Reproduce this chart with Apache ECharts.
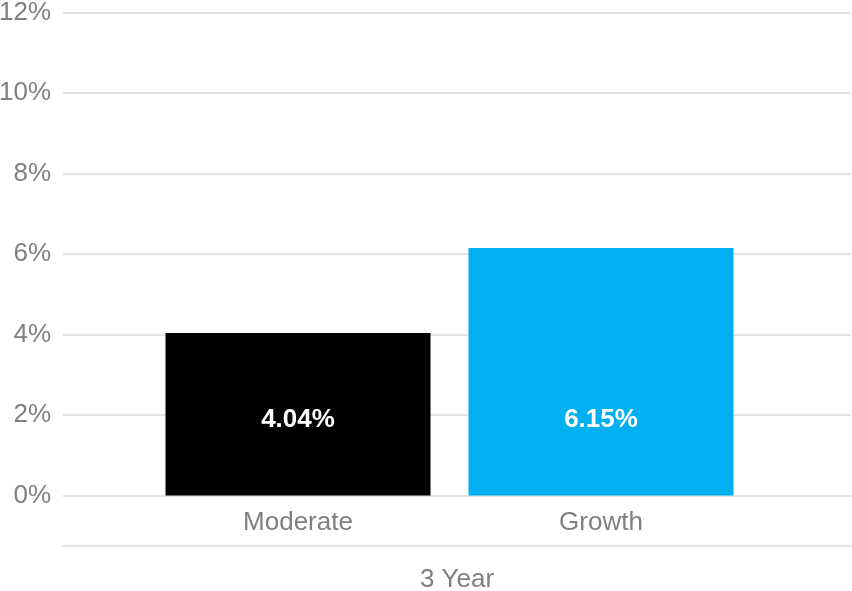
<!DOCTYPE html>
<html>
<head>
<meta charset="utf-8">
<script src="https://cdn.jsdelivr.net/npm/echarts@6/dist/echarts.min.js"></script>
<style>html,body{margin:0;padding:0;background:#fff}#c{width:852px;height:591px}</style>
</head>
<body>
<div id="c"></div>
<script>
var categories = ['3 Year'];
var seriesNames = ['Moderate', 'Growth'];
var moderateValues = [4.04];
var growthValues = [6.15];
var seriesColors = ['#000000', '#00B0F0'];
var yTicks = [0, 2, 4, 6, 8, 10, 12];

var chart = echarts.init(document.getElementById('c'));
var font = 'Liberation Sans, Arial, sans-serif';
var valueLists = [moderateValues, growthValues];
var series = [];
seriesNames.forEach(function (name, i) {
  series.push({
    name: name + ' label',
    type: 'bar',
    xAxisIndex: 1,
    yAxisIndex: 1,
    stack: 's' + i,
    barWidth: 265,
    barGap: '14.34%',
    itemStyle: { color: 'transparent' },
    label: {
      show: true,
      position: 'bottom',
      distance: 14,
      color: '#808080',
      fontSize: 26,
      fontFamily: font,
      formatter: function () { return name; }
    },
    data: valueLists[i].map(function () { return 0; }),
    silent: true
  });
  series.push({
    name: name,
    type: 'bar',
    xAxisIndex: 1,
    yAxisIndex: 1,
    stack: 's' + i,
    barWidth: 265,
    barGap: '14.34%',
    itemStyle: { color: seriesColors[i] },
    label: {
      show: true,
      position: 'insideBottom',
      distance: 63,
      color: '#ffffff',
      fontWeight: 'bold',
      fontSize: 26,
      fontFamily: font,
      formatter: function (p) { return p.value.toFixed(2) + '%'; }
    },
    data: valueLists[i]
  });
});

var yMin = yTicks[0], yMax = yTicks[yTicks.length - 1];

chart.setOption({
  animation: false,
  grid: [
    { left: 63, right: 1, top: 12.5, bottom: 95.5, containLabel: false, outerBoundsMode: 'none' },
    { left: 63, right: 16, top: 12.5, bottom: 95.5, containLabel: false, outerBoundsMode: 'none' }
  ],
  xAxis: [{
    type: 'category',
    gridIndex: 0,
    data: categories,
    offset: 50,
    axisLine: { show: true, onZero: false, lineStyle: { color: '#d9d9d9', width: 1.5 } },
    axisTick: { show: false },
    axisLabel: { margin: 21, color: '#808080', fontSize: 26, fontFamily: font }
  }, {
    type: 'category',
    gridIndex: 1,
    data: categories,
    show: false
  }],
  yAxis: [{
    type: 'value',
    gridIndex: 0,
    min: yMin,
    max: yMax,
    interval: 2,
    axisLine: { show: false },
    axisTick: { show: false },
    splitLine: { lineStyle: { color: '#d9d9d9', width: 1.5 } },
    axisLabel: { margin: 12, color: '#808080', fontSize: 26, fontFamily: font, formatter: '{value}%' }
  }, {
    type: 'value',
    gridIndex: 1,
    min: yMin,
    max: yMax,
    interval: 2,
    show: false,
    splitLine: { show: false }
  }],
  series: series
});
</script>
</body>
</html>
